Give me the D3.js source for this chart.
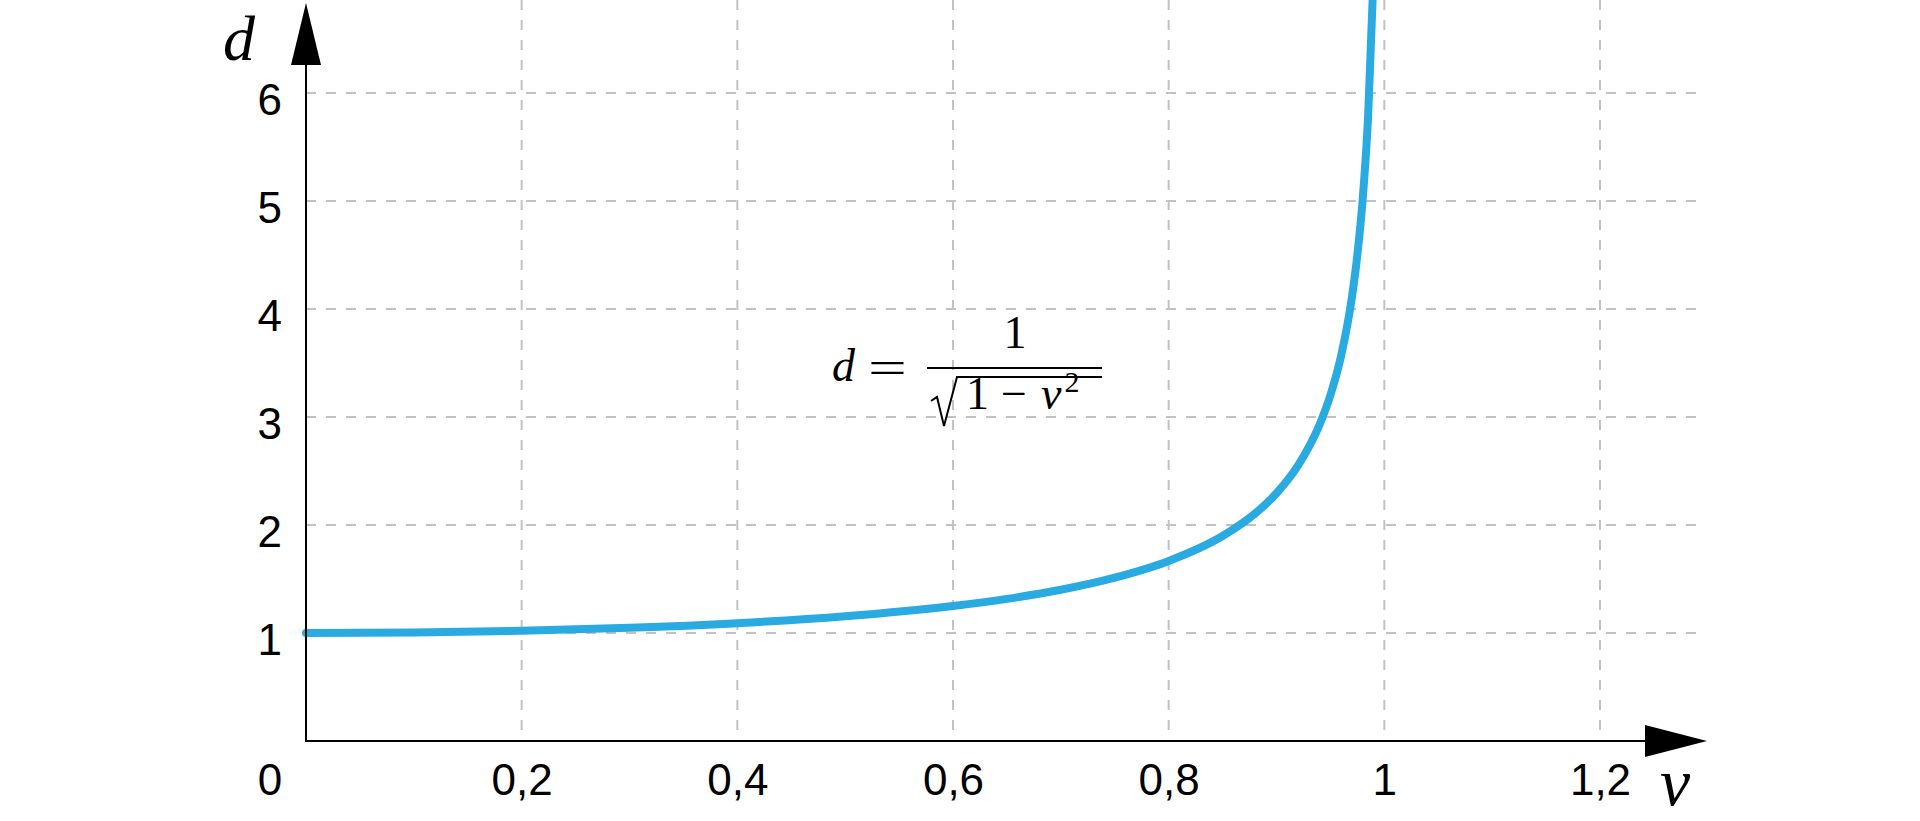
<!DOCTYPE html>
<html>
<head>
<meta charset="utf-8">
<script src="https://cdn.jsdelivr.net/npm/d3@7"></script>
<style>
	body { margin: 0; background: #fff; }
	svg { display: block; }
	.tick text { font-family: "Liberation Sans", Arial, sans-serif; }
</style>
</head>
<body>
<svg id="svgContainer" width="1920" height="821"></svg>
<script>
// values
var speeds = [0, 0.1, 0.2, 0.3, 0.4, 0.5, 0.6, 0.65, 0.7, 0.75, 0.8, 0.85, 0.88, 0.9, 0.92, 0.94, 0.95, 0.96, 0.97, 0.975, 0.98, 0.985, 0.99],
	dilation = [1, 1.005, 1.021, 1.048, 1.091, 1.155, 1.25, 1.316, 1.4, 1.512, 1.667, 1.898, 2.105, 2.294, 2.552, 2.931, 3.203, 3.571, 4.113, 4.502, 5.025, 5.795, 7.089],
	xTicks = [0.2, 0.4, 0.6, 0.8, 1, 1.2],
	yTicks = [1, 2, 3, 4, 5, 6];

var x0 = 306, x1 = 1600, y0 = 741, y1 = 93,
	gridRight = 1702,
	curveColor = "#29abe2",
	gridColor = "#c2c2c2";

var svg = d3.select("#svgContainer");

var x = d3.scaleLinear().domain([0, 1.2]).range([x0, x1]),
	y = d3.scaleLinear().domain([0, 6]).range([y0, y1]);

var locale = d3.formatLocale({decimal: ",", thousands: " ", grouping: [3], currency: ["", ""]});
function fmt(v){
	return Number.isInteger(v) ? String(v) : locale.format(".1f")(v);
}

// grid
svg.append("g").selectAll("line").data(xTicks).enter()
	.append("line")
	.attr("x1", function(d){ return x(d); })
	.attr("x2", function(d){ return x(d); })
	.attr("y1", 0)
	.attr("y2", y0)
	.attr("stroke", gridColor)
	.attr("stroke-width", 2)
	.attr("stroke-dasharray", "10,10");

svg.append("g").selectAll("line").data(yTicks).enter()
	.append("line")
	.attr("x1", x0)
	.attr("x2", gridRight)
	.attr("y1", function(d){ return y(d); })
	.attr("y2", function(d){ return y(d); })
	.attr("stroke", gridColor)
	.attr("stroke-width", 2)
	.attr("stroke-dasharray", "10,10");

// tick labels through d3 axes (no tick marks, no domain)
var xAxis = svg.append("g")
	.attr("transform", "translate(0," + y0 + ")")
	.call(d3.axisBottom(x).tickValues(xTicks).tickSize(0).tickPadding(0).tickFormat(fmt));
xAxis.select(".domain").remove();
xAxis.selectAll("text")
	.attr("dy", null)
	.attr("y", 54)
	.attr("fill", "#000")
	.style("font-size", "44px");

var yAxis = svg.append("g")
	.attr("transform", "translate(" + x0 + ",0)")
	.call(d3.axisLeft(y).tickValues(yTicks).tickSize(0).tickPadding(0).tickFormat(fmt));
yAxis.select(".domain").remove();
yAxis.selectAll("text")
	.attr("dy", null)
	.attr("x", -24)
	.attr("y", 21)
	.attr("fill", "#000")
	.style("font-size", "44px");

svg.append("text")
	.attr("x", 270)
	.attr("y", y0 + 54)
	.attr("text-anchor", "middle")
	.style("font-family", "'Liberation Sans', Arial, sans-serif")
	.style("font-size", "44px")
	.text("0");

// curve
var line = d3.line()
	.x(function(d, i){ return x(speeds[i]); })
	.y(function(d){ return y(d); })
	.curve(d3.curveMonotoneX);

svg.append("path")
	.datum(dilation)
	.attr("d", line)
	.attr("fill", "none")
	.attr("stroke", curveColor)
	.attr("stroke-width", 8)
	.attr("stroke-linecap", "round");

// axes with arrows
svg.append("line")
	.attr("x1", x0).attr("x2", 1646)
	.attr("y1", y0).attr("y2", y0)
	.attr("stroke", "#000").attr("stroke-width", 2);
svg.append("line")
	.attr("x1", x0).attr("x2", x0)
	.attr("y1", y0 + 1).attr("y2", 64)
	.attr("stroke", "#000").attr("stroke-width", 2);

svg.append("path")
	.attr("d", "M1707," + y0 + "L1645," + (y0 - 16) + "L1645," + (y0 + 16) + "Z")
	.attr("fill", "#000");
svg.append("path")
	.attr("d", "M" + x0 + ",3L" + (x0 - 15) + ",65L" + (x0 + 15) + ",65Z")
	.attr("fill", "#000");

// axis names
var serif = "'Liberation Serif', 'DejaVu Serif', serif";
svg.append("text")
	.attr("x", 223).attr("y", 60)
	.style("font-family", serif).style("font-style", "italic").style("font-size", "64px")
	.text("d");
svg.append("text")
	.attr("x", 1660).attr("y", 805)
	.style("font-family", serif).style("font-style", "italic").style("font-size", "68px")
	.text("v");

// formula d = 1 / sqrt(1 - v^2)
var f = svg.append("g").style("font-family", serif).style("font-size", "46px");
f.append("text").attr("x", 832).attr("y", 381).style("font-style", "italic").text("d");
f.append("text").attr("x", 868).attr("y", 383)
	.attr("transform", "translate(868,383) scale(1.5,1) translate(-868,-383)")
	.text("=");
f.append("line")
	.attr("x1", 927).attr("x2", 1102)
	.attr("y1", 368).attr("y2", 368)
	.attr("stroke", "#000").attr("stroke-width", 2);
f.append("text").attr("x", 1015).attr("y", 348).attr("text-anchor", "middle").text("1");
f.append("path")
	.attr("d", "M931,401L937,397L944,426L957,377L1102,377")
	.attr("fill", "none")
	.attr("stroke", "#000")
	.attr("stroke-width", 2)
	.attr("stroke-linejoin", "miter");
var den = f.append("text").attr("x", 966).attr("y", 409);
den.append("tspan").text("1");
den.append("tspan").attr("dx", 12).text("\u2212");
den.append("tspan").attr("dx", 14).style("font-style", "italic").text("v");
den.append("tspan").attr("dx", 3).attr("dy", -17).style("font-size", "30px").text("2");
</script>
</body>
</html>
